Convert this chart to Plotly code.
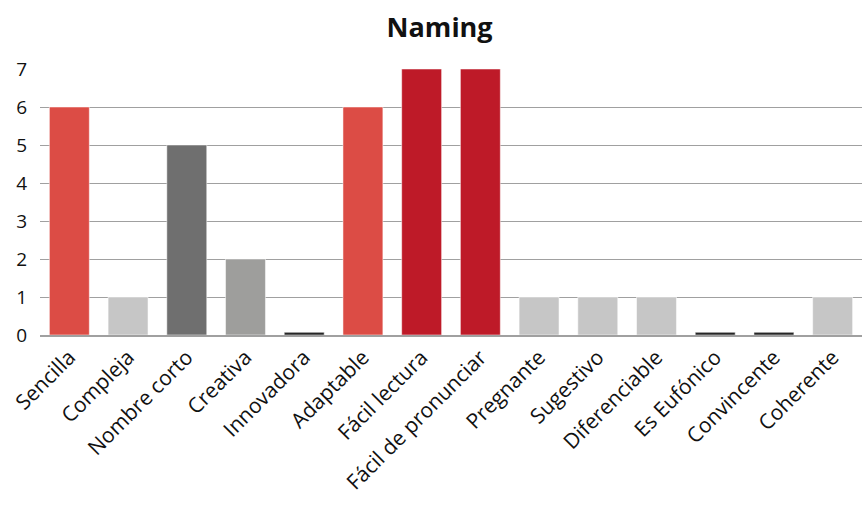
import plotly.graph_objects as go

categories = ["Sencilla", "Compleja", "Nombre corto", "Creativa", "Innovadora", "Adaptable",
              "Fácil lectura", "Fácil de pronunciar", "Pregnante", "Sugestivo", "Diferenciable",
              "Es Eufónico", "Convincente", "Coherente"]
values = [6, 1, 5, 2, 0, 6, 7, 7, 1, 1, 1, 0, 0, 1]
colors = ["#DC4C45", "#C6C6C6", "#6F6F6F", "#9E9E9C", "#262626", "#DC4C45", "#BE1A28",
          "#BE1A28", "#C6C6C6", "#C6C6C6", "#C6C6C6", "#262626", "#262626", "#C6C6C6"]
y_ticks = [0, 1, 2, 3, 4, 5, 6, 7]

# zero values are drawn as a thin stub, as in the original chart
display = [v if v > 0 else 0.07 for v in values]

fig = go.Figure(go.Bar(
    x=categories, y=display, customdata=values,
    hovertemplate="%{x}: %{customdata}<extra></extra>",
    marker=dict(color=colors, line=dict(color="rgba(255,255,255,0.5)", width=1)),
))

fig.update_layout(
    width=862, height=506,
    margin=dict(l=40, r=0, t=69, b=171),
    paper_bgcolor="white", plot_bgcolor="white",
    bargap=0.32,
    showlegend=False,
    font=dict(family="Open Sans", color="#111111"),
    title=dict(text="<b>Naming</b>", x=0.51, xanchor="center", y=0.945, yanchor="middle",
               font=dict(size=27, family="Open Sans", color="#111111")),
)
fig.update_xaxes(
    tickangle=-45, tickfont=dict(size=21, family="Open Sans"), showgrid=False,
    showline=True, linecolor="#A0A0A0", linewidth=1.5, ticks="",
)
fig.update_yaxes(
    range=[0, 7], tickvals=y_ticks, tickfont=dict(size=19, family="Open Sans"),
    showgrid=True, gridcolor="#A0A0A0", gridwidth=1, zeroline=False,
    showline=False, ticks="", ticklabelstandoff=12,
)

fig.write_html("out.html")
